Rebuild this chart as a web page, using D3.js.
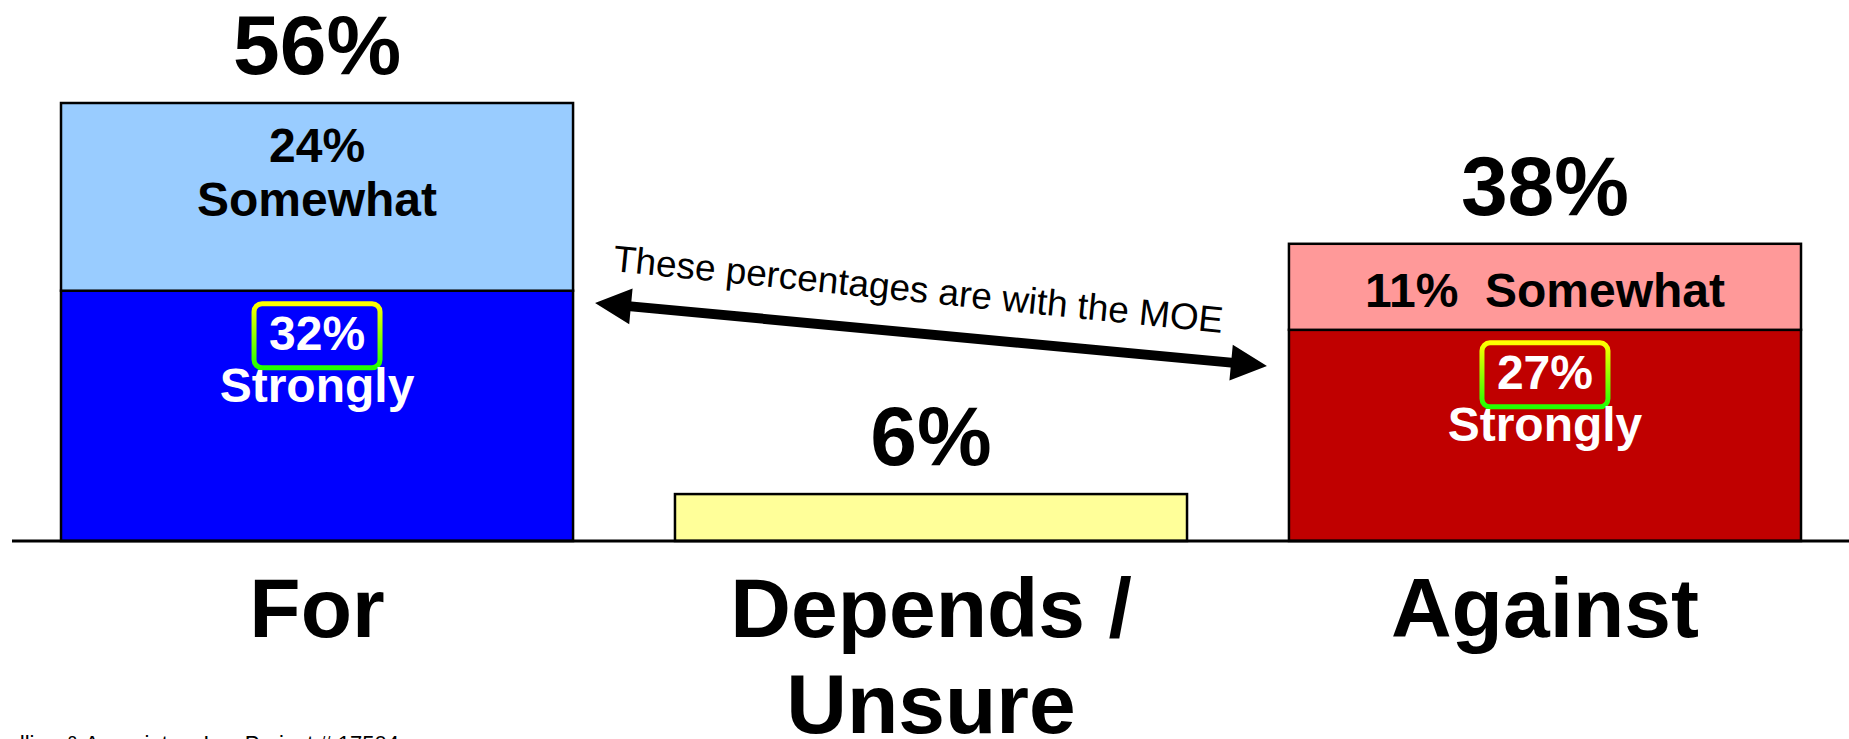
<!DOCTYPE html>
<html>
<head>
<meta charset="utf-8">
<script src="https://cdn.jsdelivr.net/npm/d3@7"></script>
<style>
  body { margin: 0; background: #fff; }
  svg { display: block; font-family: "Liberation Sans", Arial, sans-serif; }
</style>
</head>
<body>
<script>
// chart values
var categories = ["For", "Depends / Unsure", "Against"];
var categoryLines = [["For"], ["Depends /", "Unsure"], ["Against"]];
var totals = [56, 6, 38];
var strongly = [32, null, 27];
var somewhat = [24, null, 11];
var totalLabels = ["56%", "6%", "38%"];
var strongLabels = ["32%", null, "27%"];
var somewhatLabels = [["24%", "Somewhat"], null, ["11%  Somewhat"]];
var arrowNote = "These percentages are with the MOE";
var footnote = "Spradling & Associates, Inc.  Project # 17504";

var w = 1849;
var h = 739;

var svg = d3.select("body")
            .append("svg")
            .attr("width", w)
            .attr("height", h);

var xScale = d3.scaleBand()
               .domain(categories)
               .range([61, 1801])
               .paddingInner(0.166)
               .paddingOuter(0);

var yScale = d3.scaleLinear()
               .domain([0, 56])
               .range([541, 103]);

var strongFill = ["#0000FF", null, "#C00000"];
var someFill = ["#99CCFF", null, "#FF9999"];

// segments for stacked bars
var segs = [];
categories.forEach(function(c, i) {
  if (strongly[i] == null) {
    segs.push({cat: c, y0: 0, y1: totals[i], fill: "#FFFF99"});
  } else {
    segs.push({cat: c, y0: 0, y1: strongly[i], fill: strongFill[i]});
    segs.push({cat: c, y0: strongly[i], y1: strongly[i] + somewhat[i], fill: someFill[i]});
  }
});

svg.selectAll("rect.seg")
    .data(segs)
    .enter()
    .append("rect")
      .attr("class", "seg")
      .attr("x", function(d) { return xScale(d.cat); })
      .attr("width", xScale.bandwidth())
      .attr("y", function(d) { return yScale(d.y1); })
      .attr("height", function(d) { return yScale(d.y0) - yScale(d.y1); })
      .attr("fill", function(d) { return d.fill; })
      .attr("stroke", "#000")
      .attr("stroke-width", 2.5);

// baseline
svg.append("line")
    .attr("x1", 12).attr("x2", w)
    .attr("y1", yScale(0)).attr("y2", yScale(0))
    .attr("stroke", "#000")
    .attr("stroke-width", 3);

// category labels through an axis
var xAxis = d3.axisBottom(xScale).tickSize(0).tickSizeOuter(0);
var gx = svg.append("g")
    .attr("transform", "translate(0," + yScale(0) + ")")
    .call(xAxis);
gx.select(".domain").remove();
gx.selectAll(".tick text")
    .attr("font-family", "'Liberation Sans', Arial, sans-serif")
    .attr("font-size", 84)
    .attr("font-weight", "bold")
    .attr("fill", "#000")
    .attr("dy", null)
    .attr("y", 0)
    .text(null)
    .each(function(d, i) {
      var t = d3.select(this);
      categoryLines[i].forEach(function(line, j) {
        t.append("tspan")
          .attr("x", 0)
          .attr("y", 96 + j * 96)
          .text(line);
      });
    });

var cx = function(i) { return xScale(categories[i]) + xScale.bandwidth() / 2; };

// total labels
svg.selectAll("text.total")
    .data(totalLabels)
    .enter()
    .append("text")
      .attr("class", "total")
      .attr("x", function(d, i) { return cx(i); })
      .attr("y", function(d, i) { return yScale(totals[i]) - 29; })
      .attr("text-anchor", "middle")
      .attr("font-size", 84)
      .attr("font-weight", "bold")
      .text(function(d) { return d; });

// somewhat labels
somewhatLabels.forEach(function(lines, i) {
  if (!lines) return;
  var top = yScale(totals[i]);
  var t = svg.append("text")
    .attr("text-anchor", "middle")
    .attr("font-size", 48)
    .attr("font-weight", "bold")
    .attr("fill", "#000")
    .style("white-space", "pre");
  lines.forEach(function(line, j) {
    t.append("tspan")
      .attr("x", cx(i))
      .attr("y", top + (lines.length == 1 ? 63 : 59 + j * 54))
      .text(line);
  });
});

// gradient for highlight boxes
var grad = svg.append("defs").append("linearGradient")
    .attr("id", "hl")
    .attr("x1", 0).attr("y1", 0).attr("x2", 0).attr("y2", 1);
grad.append("stop").attr("offset", "0%").attr("stop-color", "#FFFF00");
grad.append("stop").attr("offset", "100%").attr("stop-color", "#22FF00");

// strongly labels with boxes
strongLabels.forEach(function(lab, i) {
  if (!lab) return;
  var split = yScale(strongly[i]);
  var base = split + 59;
  svg.append("rect")
    .attr("x", cx(i) - 63)
    .attr("y", base - 46)
    .attr("width", 126)
    .attr("height", 64)
    .attr("rx", 8)
    .attr("fill", "none")
    .attr("stroke", "url(#hl)")
    .attr("stroke-width", 5);
  svg.append("text")
    .attr("x", cx(i))
    .attr("y", base)
    .attr("text-anchor", "middle")
    .attr("font-size", 48)
    .attr("font-weight", "bold")
    .attr("fill", "#fff")
    .text(lab);
  svg.append("text")
    .attr("x", cx(i))
    .attr("y", base + 52)
    .attr("text-anchor", "middle")
    .attr("font-size", 48)
    .attr("font-weight", "bold")
    .attr("fill", "#fff")
    .text("Strongly");
});

// double-headed arrow between the For and Against bars
var ax1 = xScale("For") + xScale.bandwidth() + 22, ay1 = 303;
var ax2 = xScale("Against") - 22, ay2 = 366;
var ang = Math.atan2(ay2 - ay1, ax2 - ax1);
var len = Math.hypot(ax2 - ax1, ay2 - ay1);
var hl = 36, hw = 18, sw = 5;
var ga = svg.append("g")
    .attr("transform", "translate(" + ax1 + "," + ay1 + ") rotate(" + (ang * 180 / Math.PI) + ")");
ga.append("path")
    .attr("d", "M0,0 L" + hl + "," + (-hw) + " L" + hl + "," + (-sw) +
               " L" + (len - hl) + "," + (-sw) + " L" + (len - hl) + "," + (-hw) +
               " L" + len + ",0 L" + (len - hl) + "," + hw + " L" + (len - hl) + "," + sw +
               " L" + hl + "," + sw + " L" + hl + "," + hw + "Z")
    .attr("fill", "#000");

svg.append("text")
    .attr("transform", "translate(917,302) rotate(5.8)")
    .attr("text-anchor", "middle")
    .attr("font-size", 37)
    .text(arrowNote);

svg.append("text")
    .attr("x", -34)
    .attr("y", 751)
    .attr("font-size", 22)
    .text(footnote);
</script>
</body>
</html>
